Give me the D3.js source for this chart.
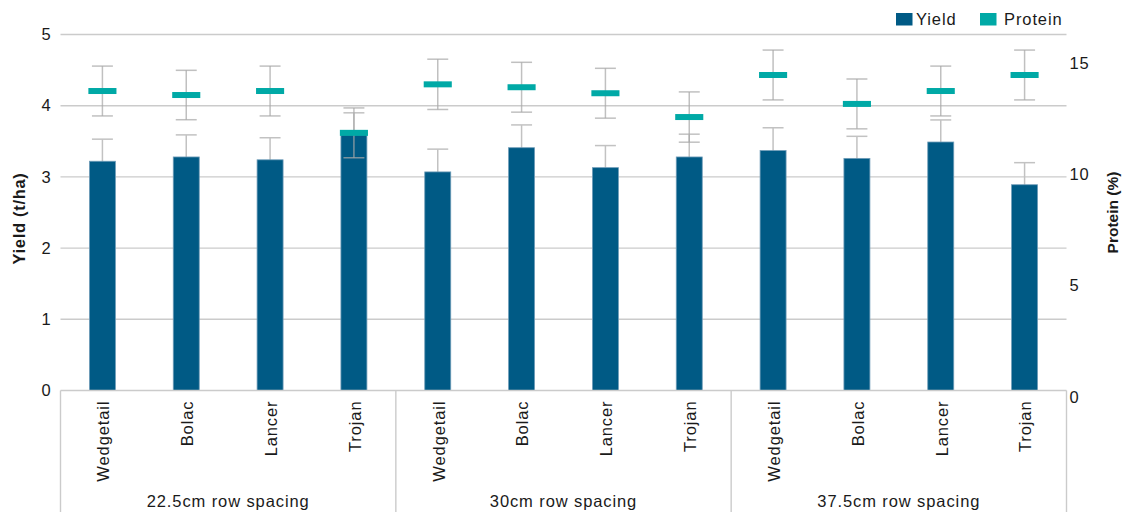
<!DOCTYPE html>
<html>
<head>
<meta charset="utf-8">
<script src="https://cdn.jsdelivr.net/npm/d3@7"></script>
<style>
  html, body { margin: 0; padding: 0; background: #ffffff; }
  svg text { font-family: "Liberation Sans", Arial, Helvetica, sans-serif; fill: #1a1a1a; }
</style>
</head>
<body>
<svg id="chart" width="1125" height="512"></svg>
<script>
// ---- data ----
const groups = ["22.5cm row spacing", "30cm row spacing", "37.5cm row spacing"];
const varieties = ["Wedgetail", "Bolac", "Lancer", "Trojan"];
const yieldValues   = [3.22, 3.28, 3.24, 3.59,  3.07, 3.41, 3.13, 3.28,  3.37, 3.26, 3.49, 2.89];
const yieldErrors   = [0.31, 0.31, 0.31, 0.31,  0.32, 0.32, 0.31, 0.32,  0.32, 0.31, 0.31, 0.31];
const proteinValues = [13.46, 13.28, 13.46, 11.58,  13.76, 13.63, 13.36, 12.29,  14.18, 12.88, 13.46, 14.18];
const proteinErrors = [1.12, 1.11, 1.12, 1.12,  1.13, 1.12, 1.12, 1.13,  1.12, 1.12, 1.12, 1.12];
const yieldTicks = [0, 1, 2, 3, 4, 5];
const proteinTicks = [0, 5, 10, 15];
const seriesNames = ["Yield", "Protein"];
const yieldTitle = "Yield (t/ha)";
const proteinTitle = "Protein (%)";

// ---- styles ----
const C_BAR = "#005a85", C_BAR_EDGE = "#6f9cb8", C_PROT = "#00a9a6";
const C_GRID = "#cbcbcb", C_ERR = "#c2c2c2";
const FS = "16.5px", LS = "0.9px";

const svg = d3.select("#chart");
const L = 60.5, R = 1066.5, T = 34.5, B = 390.5;

const rows = [];
groups.forEach((g, gi) => varieties.forEach((v, vi) => {
  const i = gi * varieties.length + vi;
  rows.push({ id: i, group: g, variety: v,
    y: yieldValues[i], ye: yieldErrors[i], p: proteinValues[i], pe: proteinErrors[i] });
}));

const x = d3.scaleBand().domain(rows.map(d => d.id)).range([L, R]).padding(0);
const yL = d3.scaleLinear().domain([0, 5]).range([B, T]);
const yR = d3.scaleLinear().domain([0, 16]).range([B, T]);
const bw = x.bandwidth() * 0.31;
const mw = x.bandwidth() * 0.335;
const cw = x.bandwidth() * 0.25;
const cx = d => x(d.id) + x.bandwidth() / 2;

// gridlines
svg.append("g").selectAll("line").data(yieldTicks.filter(t => t > 0)).join("line")
  .attr("x1", L).attr("x2", R).attr("y1", d => yL(d)).attr("y2", d => yL(d))
  .attr("stroke", C_GRID).attr("stroke-width", 1.4);

// left axis labels
const axL = svg.append("g").attr("transform", `translate(${L},0)`)
  .call(d3.axisLeft(yL).tickValues(yieldTicks).tickSize(0).tickPadding(9).tickFormat(d3.format("d")));
axL.select(".domain").remove();
axL.selectAll("text").style("font-size", FS).style("letter-spacing", LS).attr("fill", "#1a1a1a");

// right axis labels
const axR = svg.append("g").attr("transform", `translate(${R},0)`)
  .call(d3.axisRight(yR).tickValues(proteinTicks).tickSize(0).tickPadding(3).tickFormat(d3.format("d")));
axR.select(".domain").remove();
axR.selectAll("text").style("font-size", FS).style("letter-spacing", LS).attr("fill", "#1a1a1a")
  .attr("dy", "0.7em");

// yield error bars (behind bars)
const ye = svg.append("g").attr("stroke", C_ERR).attr("stroke-width", 1.5);
ye.selectAll("line.v").data(rows).join("line").attr("class", "v")
  .attr("x1", cx).attr("x2", cx).attr("y1", d => yL(d.y - d.ye)).attr("y2", d => yL(d.y + d.ye));
ye.selectAll("line.c").data(rows).join("line").attr("class", "c")
  .attr("x1", d => cx(d) - cw / 2).attr("x2", d => cx(d) + cw / 2)
  .attr("y1", d => yL(d.y + d.ye)).attr("y2", d => yL(d.y + d.ye));

// bars
svg.append("g").selectAll("rect").data(rows).join("rect")
  .attr("x", d => cx(d) - bw / 2).attr("width", bw)
  .attr("y", d => yL(d.y)).attr("height", d => yL(0) - yL(d.y))
  .attr("fill", C_BAR).attr("stroke", C_BAR_EDGE).attr("stroke-width", 0.8);

// protein error bars
const pe = svg.append("g").attr("stroke", "rgba(168,168,168,0.72)").attr("stroke-width", 1.5);
pe.selectAll("line.v").data(rows).join("line").attr("class", "v")
  .attr("x1", cx).attr("x2", cx).attr("y1", d => yR(d.p - d.pe)).attr("y2", d => yR(d.p + d.pe));
pe.selectAll("line.t").data(rows).join("line").attr("class", "t")
  .attr("x1", d => cx(d) - cw / 2).attr("x2", d => cx(d) + cw / 2)
  .attr("y1", d => yR(d.p + d.pe)).attr("y2", d => yR(d.p + d.pe));
pe.selectAll("line.b").data(rows).join("line").attr("class", "b")
  .attr("x1", d => cx(d) - cw / 2).attr("x2", d => cx(d) + cw / 2)
  .attr("y1", d => yR(d.p - d.pe)).attr("y2", d => yR(d.p - d.pe));

// protein markers
svg.append("g").selectAll("rect").data(rows).join("rect")
  .attr("x", d => cx(d) - mw / 2).attr("width", mw)
  .attr("y", d => yR(d.p) - 3).attr("height", 6)
  .attr("fill", C_PROT);

// category axis box
svg.append("line").attr("x1", L).attr("x2", R).attr("y1", B).attr("y2", B)
  .attr("stroke", C_GRID).attr("stroke-width", 1.4);
const groupEdges = groups.map((g, gi) => x(gi * varieties.length)).concat([R]);
svg.append("g").selectAll("line").data(groupEdges).join("line")
  .attr("x1", d => d).attr("x2", d => d).attr("y1", B).attr("y2", 512)
  .attr("stroke", C_GRID).attr("stroke-width", 1.4);

// variety labels
svg.append("g").selectAll("text").data(rows).join("text")
  .attr("transform", d => `translate(${cx(d) + 1},${B + 10}) rotate(-90)`)
  .attr("text-anchor", "end").attr("dy", "0.35em")
  .style("font-size", FS).style("letter-spacing", LS)
  .text(d => d.variety);

// group labels
svg.append("g").selectAll("text").data(groups).join("text")
  .attr("x", (g, gi) => (groupEdges[gi] + groupEdges[gi + 1]) / 2)
  .attr("y", 506.5).attr("text-anchor", "middle")
  .style("font-size", FS).style("letter-spacing", LS)
  .text(d => d);

// axis titles
svg.append("text").attr("transform", `translate(19,218.5) rotate(-90)`)
  .attr("text-anchor", "middle").attr("dy", "0.35em")
  .style("font-size", FS).style("font-weight", "bold").style("letter-spacing", "0.7px")
  .text(yieldTitle);
svg.append("text").attr("transform", `translate(1112.5,212.5) rotate(-90)`)
  .attr("text-anchor", "middle").attr("dy", "0.35em")
  .style("font-size", "15.5px").style("font-weight", "bold")
  .text(proteinTitle);

// legend
const lg = svg.append("g");
const legendItems = [
  { name: seriesNames[0], color: C_BAR, x: 896 },
  { name: seriesNames[1], color: C_PROT, x: 980 }
];
lg.selectAll("rect").data(legendItems).join("rect")
  .attr("x", d => d.x).attr("y", 13).attr("width", 16.5).attr("height", 12.5)
  .attr("fill", d => d.color);
lg.selectAll("text").data(legendItems).join("text")
  .attr("x", d => d.x + (d.name === "Yield" ? 20 : 24)).attr("y", 25)
  .style("font-size", FS).style("letter-spacing", LS)
  .text(d => d.name);
</script>
</body>
</html>
